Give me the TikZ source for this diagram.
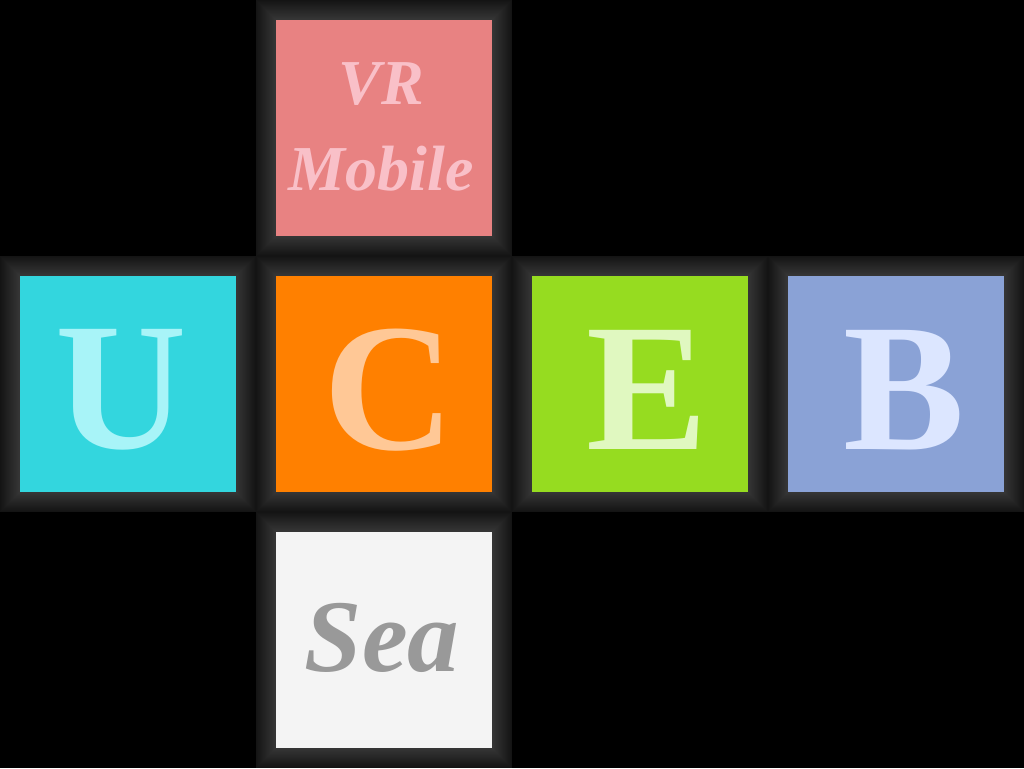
\documentclass[tikz,border=0pt]{standalone}
\usepackage{fontspec}
\setmainfont{Liberation Serif}
\definecolor{cvr}{HTML}{E88282}\definecolor{tvr}{HTML}{F9C0C8}
\definecolor{cu}{HTML}{33D6DE}\definecolor{tu}{HTML}{A8F4F8}
\definecolor{cc}{HTML}{FF8000}\definecolor{tc}{HTML}{FFC896}
\definecolor{ce}{HTML}{96DC20}\definecolor{te}{HTML}{E0F8C0}
\definecolor{cb}{HTML}{8AA2D6}\definecolor{tb}{HTML}{DCE6FF}
\definecolor{cs}{HTML}{F4F4F4}\definecolor{ts}{HTML}{999999}
\tikzset{
  tile/.style={minimum size=216pt, inner sep=0pt, outer sep=0pt, align=center},
  big/.style={font=\fontsize{182}{182}\selectfont\bfseries},
}
\newcommand{\bevelcell}[2]{%
  \foreach \i in {0,...,20}{%
    \pgfmathsetmacro\g{0.08+0.0068*\i}%
    \definecolor{bev}{gray}{\g}%
    \fill[bev] (#1+\i,#2+\i) rectangle (#1+256-\i,#2+256-\i);
  }%
}
\begin{document}
\begin{tikzpicture}[x=1pt,y=-1pt]
\fill[black] (0,0) rectangle (1024,768);
\useasboundingbox (0,0) rectangle (1024,768);
\bevelcell{256}{0}
\bevelcell{0}{256}
\bevelcell{256}{256}
\bevelcell{512}{256}
\bevelcell{768}{256}
\bevelcell{256}{512}
\node[tile, fill=cvr] (vr) at (384,128) {};
\node[text=tvr, font=\fontsize{64}{86}\selectfont\bfseries\itshape, align=center, inner sep=0pt] (vrt) at (381,127) {VR\\Mobile};
\node[tile, fill=cu] (u) at (128,384) {};
\node[tile, fill=cc] (c) at (384,384) {};
\node[tile, fill=ce] (e) at (640,384) {};
\node[tile, fill=cb] (b) at (896,384) {};
\node[big, text=tu, inner sep=0pt] (ut) at (121,390) {U};
\node[big, text=tc, inner sep=0pt] (ct) at (389,390) {C};
\node[big, text=te, inner sep=0pt] (et) at (647,390) {E};
\node[big, text=tb, inner sep=0pt] (bt) at (904,390) {B};
\node[tile, fill=cs] (sea) at (384,640) {};
\node[text=ts, font=\fontsize{103}{103}\selectfont\bfseries\itshape, inner sep=0pt] (seat) at (382,638) {Sea};
\end{tikzpicture}
\end{document}
